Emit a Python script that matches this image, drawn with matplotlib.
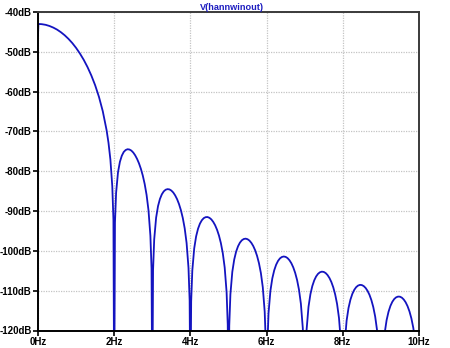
import matplotlib
matplotlib.use("Agg")
import matplotlib.pyplot as plt

# spectrum of hannwinout (Hz, dB); -140 = below the plot floor
freq_main = [0.0, 0.01, 0.1, 0.2, 0.3, 0.4, 0.5, 0.6, 0.7, 0.8, 0.9, 1.0,
             1.1, 1.2, 1.3, 1.4, 1.5, 1.6, 1.7, 1.8, 1.85, 1.9, 1.95, 1.98, 2.0]
db_main = [-46.0, -43.0, -43.06, -43.22, -43.51, -43.91, -44.42, -45.07, -45.84, -46.75, -47.8, -49.02,
           -50.42, -52.01, -53.84, -55.95, -58.4, -61.32, -64.92, -69.67, -72.83, -77.05, -83.8, -92.2, -140.0]

# side lobes: one row per lobe, sampled at these offsets from the lower null
lobe_start = [2, 3, 4, 5, 6, 7, 8, 9]
lobe_offset = [0.02, 0.05, 0.1, 0.15, 0.2, 0.25, 0.3, 0.35, 0.4, 0.45, 0.5,
               0.55, 0.6, 0.65, 0.7, 0.75, 0.8, 0.85, 0.9, 0.95, 0.98, 1.0]
lobe_db = [
    [-92.9, -85.4, -80.24, -77.62, -76.09, -75.16, -74.67, -74.47, -74.54, -74.81, -75.3,
     -75.99, -76.89, -78.0, -79.38, -81.07, -83.2, -85.95, -89.79, -96.19, -104.4, -140.0],
    [-104.8, -97.12, -91.67, -88.77, -86.97, -85.8, -85.06, -84.64, -84.49, -84.56, -84.85,
     -85.34, -86.06, -87.0, -88.22, -89.76, -91.73, -94.32, -98.02, -104.27, -112.4, -140.0],
    [-112.7, -104.95, -99.38, -96.36, -94.45, -93.16, -92.31, -91.78, -91.53, -91.5, -91.7,
     -92.1, -92.73, -93.58, -94.71, -96.16, -98.05, -100.57, -104.19, -110.37, -118.5, -140.0],
    [-118.7, -110.9, -105.26, -102.18, -100.19, -98.85, -97.93, -97.34, -97.02, -96.93, -97.07,
     -97.42, -97.99, -98.79, -99.86, -101.27, -103.11, -105.57, -109.14, -115.28, -123.4, -140.0],
    [-124.0, -115.72, -110.03, -106.9, -104.88, -103.48, -102.52, -101.89, -101.54, -101.41, -101.51,
     -101.82, -102.35, -103.11, -104.15, -105.52, -107.32, -109.75, -113.29, -119.39, -127.0, -140.0],
    [-128.0, -119.77, -114.04, -110.88, -108.83, -107.41, -106.42, -105.76, -105.38, -105.22, -105.29,
     -105.57, -106.08, -106.82, -107.83, -109.17, -110.95, -113.35, -116.86, -122.94, -130.0, -140.0],
    [-131.0, -123.27, -117.52, -114.34, -112.26, -110.81, -109.8, -109.12, -108.72, -108.54, -108.59,
     -108.85, -109.33, -110.05, -111.04, -112.36, -114.12, -116.51, -120.0, -126.05, -133.0, -140.0],
    [-134.0, -126.35, -120.58, -117.38, -115.29, -113.82, -112.79, -112.09, -111.67, -111.48, -111.51,
     -111.75, -112.22, -112.92, -113.9, -115.21, -116.95, -119.32, -122.79, -128.83, -136.0, -140.0],
]

x_ticks = [0, 2, 4, 6, 8, 10]
x_labels = ["0Hz", "2Hz", "4Hz", "6Hz", "8Hz", "10Hz"]
y_ticks = [-120, -110, -100, -90, -80, -70, -60, -50, -40]
y_labels = [f"{v}dB" for v in y_ticks]

freq = list(freq_main)
db = list(db_main)
for start, vals in zip(lobe_start, lobe_db):
    for off, v in zip(lobe_offset, vals):
        freq.append(start + off)
        db.append(v)

plt.rcParams["font.family"] = ["Liberation Sans", "DejaVu Sans"]

fig = plt.figure(figsize=(4.5, 3.48), dpi=100)
ax = fig.add_axes([38 / 450, 1 - 330.5 / 348, 381 / 450, 318.5 / 348])

ax.plot(freq, db, color="#1414c0", linewidth=1.3)

ax.set_xlim(0, 10)
ax.set_ylim(-120, -40)
ax.set_xticks(x_ticks)
ax.set_xticklabels(x_labels, fontsize=7, fontweight="bold")
ax.set_yticks(y_ticks)
ax.set_yticklabels(y_labels, fontsize=7, fontweight="bold")
ax.tick_params(direction="out", length=3.5, width=1.2, pad=1, color="black")

ax.grid(True, color="#c4c4c4", linestyle=(0, (1, 1)), linewidth=0.9)

for side in ["left", "bottom"]:
    ax.spines[side].set_color("black")
    ax.spines[side].set_linewidth(1.4)
for side in ["top", "right"]:
    ax.spines[side].set_color("#3a3a3a")
    ax.spines[side].set_linewidth(1.4)

ax.set_title("V(hannwinout)", fontsize=6.6, fontweight="bold", color="#1c1cc0", pad=1.5, x=0.508)

fig.savefig("out.png", dpi=100)
